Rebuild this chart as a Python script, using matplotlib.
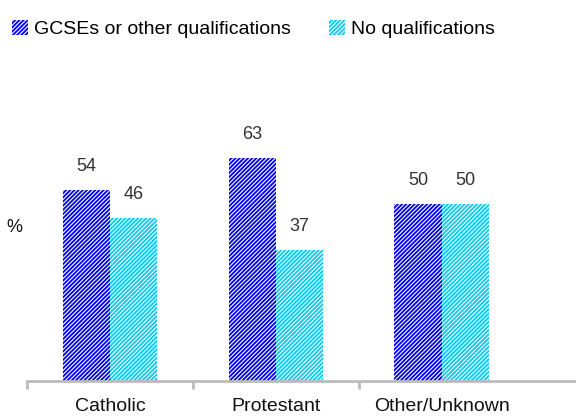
import matplotlib.pyplot as plt
import numpy as np

plt.rcParams['font.family'] = ['Liberation Sans', 'DejaVu Sans']
plt.rcParams['hatch.linewidth'] = 0.8

categories = ["Catholic", "Protestant", "Other/Unknown"]
gcse = [54, 63, 50]
no_qual = [46, 37, 50]
series_names = ["GCSEs or other qualifications", "No qualifications"]

fig = plt.figure(figsize=(5.76, 4.2), dpi=100)
ax = fig.add_axes([27 / 576, 39 / 420, 1 - 27 / 576, 354 / 420])

x = np.arange(len(categories))
w = 0.285
b1 = ax.bar(x - w / 2, gcse, w, color="#0000F0", edgecolor="white",
            hatch="////////", linewidth=0, label=series_names[0])
b2 = ax.bar(x + w / 2, no_qual, w, color="#00CCF5", edgecolor="white",
            hatch="////////", linewidth=0, label=series_names[1])

for bars in (b1, b2):
    for r in bars:
        ax.annotate(f"{r.get_height():.0f}", (r.get_x() + r.get_width() / 2, r.get_height()),
                    xytext=(0, 11), textcoords="offset points", ha="center", va="bottom",
                    fontsize=13, color="#333333")

ax.set_xlim(-0.5, 2.81)
ax.set_ylim(0, 100)
ax.set_yticks([])
for s in ("top", "right", "left"):
    ax.spines[s].set_visible(False)
ax.spines["bottom"].set_color("#BBBBBB")
ax.spines["bottom"].set_linewidth(2)

ax.set_xticks(x)
ax.set_xticklabels(categories, fontsize=14, color="#111111")
ax.tick_params(axis="x", which="major", length=0, pad=12)
ax.set_xticks([-0.5, 0.5, 1.5], minor=True)
ax.tick_params(axis="x", which="minor", length=6, width=2, color="#BBBBBB")

fig.text(14 / 576, 1 - 228 / 420, "%", fontsize=13, ha="center", va="center", color="#111111")

fig.legend(loc="upper center", bbox_to_anchor=(0.44, 0.985), ncol=2, frameon=False,
           fontsize=14, handlelength=0.8, handleheight=0.8, handletextpad=0.3,
           columnspacing=2.0, borderaxespad=0.3)

fig.savefig("out.png", dpi=100)
